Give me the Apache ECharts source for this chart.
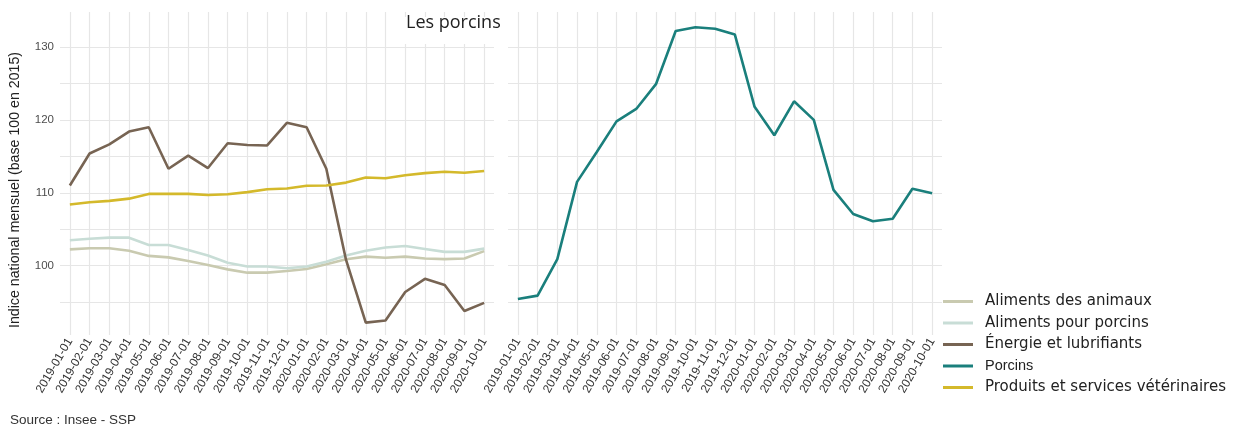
<!DOCTYPE html>
<html>
<head>
<meta charset="utf-8">
<script src="https://cdn.jsdelivr.net/npm/echarts@6/dist/echarts.min.js"></script>
<style>
  html, body { margin: 0; padding: 0; background: #fff; }
  #chart { width: 1238px; height: 428px; }
</style>
</head>
<body>
<div id="chart"></div>
<script>
// mois (axe x commun aux deux panneaux)
const mois = ['2019-01-01', '2019-02-01', '2019-03-01', '2019-04-01', '2019-05-01', '2019-06-01',
  '2019-07-01', '2019-08-01', '2019-09-01', '2019-10-01', '2019-11-01', '2019-12-01',
  '2020-01-01', '2020-02-01', '2020-03-01', '2020-04-01', '2020-05-01', '2020-06-01',
  '2020-07-01', '2020-08-01', '2020-09-01', '2020-10-01']

// indices
const alimentsAnimaux = [102.25, 102.4, 102.4, 102.05, 101.35, 101.15, 100.65, 100.1, 99.5, 99.05, 99.05,
  99.27, 99.55, 100.2, 100.9, 101.25, 101.1, 101.25, 101.0, 100.9, 101.0, 102.0]
const alimentsPorcins = [103.5, 103.7, 103.85, 103.85, 102.85, 102.85, 102.15, 101.4, 100.4, 99.9, 99.9,
  99.65, 99.9, 100.55, 101.4, 102.05, 102.5, 102.7, 102.3, 101.9, 101.9, 102.35]
const energie = [111.0, 115.4, 116.65, 118.4, 119.0, 113.3, 115.1, 113.4, 116.8, 116.55, 116.5,
  119.6, 119.0, 113.3, 100.8, 92.2, 92.5, 96.4, 98.2, 97.35, 93.8, 94.9]
const produitsVeto = [108.4, 108.7, 108.9, 109.2, 109.85, 109.85, 109.85, 109.7, 109.8, 110.1, 110.5,
  110.6, 110.97, 111.0, 111.4, 112.1, 112.0, 112.4, 112.7, 112.9, 112.75, 113.0]
const porcins = [95.43, 95.9, 100.9, 111.5, 115.6, 119.8, 121.5, 124.9, 132.2, 132.7, 132.5,
  131.7, 121.8, 117.9, 122.55, 120.0, 110.4, 107.1, 106.1, 106.45, 110.55, 109.95]

const yLabels = [100, 110, 120, 130]
const yGrid = [95, 100, 105, 110, 115, 120, 125, 130]

const couleurs = {
  'Aliments des animaux': '#c9cab0',
  'Aliments pour porcins': '#c8ddd6',
  'Énergie et lubrifiants': '#776453',
  'Porcins': '#1a7f7c',
  'Produits et services vétérinaires': '#d4b92b'
}

const chart = echarts.init(document.getElementById('chart'))

function xAxe (gridIndex) {
  return {
    type: 'category',
    gridIndex: gridIndex,
    data: mois,
    boundaryGap: true,
    axisLine: { show: false },
    axisTick: { show: false, alignWithLabel: true },
    splitLine: { show: true, alignWithLabel: true, lineStyle: { color: '#e6e6e6', width: 1.2 } },
    axisLabel: {
      rotate: 60,
      margin: 4,
      interval: 0,
      fontFamily: 'Liberation Sans',
      fontSize: 12,
      color: '#333'
    }
  }
}

function yAxe (gridIndex, showLabels) {
  return {
    type: 'value',
    gridIndex: gridIndex,
    min: 90.5,
    max: 134.8,
    axisLine: { show: false },
    axisTick: { show: false, customValues: yGrid },
    splitLine: { show: true, lineStyle: { color: '#e6e6e6', width: 1.2 } },
    axisLabel: {
      show: showLabels,
      customValues: yLabels,
      margin: 6,
      fontFamily: 'Liberation Sans',
      fontSize: 11.5,
      color: '#4d4d4d'
    }
  }
}

function serie (name, data, idx) {
  return {
    name: name,
    type: 'line',
    xAxisIndex: idx,
    yAxisIndex: idx,
    data: data,
    showSymbol: false,
    symbol: 'none',
    color: couleurs[name],
    lineStyle: { width: 2.6, color: couleurs[name] },
    emphasis: { disabled: true }
  }
}

const option = {
  animation: false,
  grid: [
    { left: 60, top: 12, width: 434, height: 323 },
    { left: 508, top: 12, width: 434, height: 323 }
  ],
  xAxis: [xAxe(0), xAxe(1)],
  yAxis: [yAxe(0, true), yAxe(1, false)],
  legend: {
    left: 938,
    top: 288,
    orient: 'vertical',
    icon: 'rect',
    itemWidth: 30,
    itemHeight: 3,
    itemGap: 4.5,
    selectedMode: false,
    data: ['Aliments des animaux', 'Aliments pour porcins', 'Énergie et lubrifiants', 'Porcins', 'Produits et services vétérinaires'],
    formatter: function (name) {
      return name === 'Porcins' ? '{p|' + name + '}' : name
    },
    textStyle: {
      fontFamily: 'DejaVu Sans',
      fontSize: 15,
      lineHeight: 17,
      color: '#222',
      padding: [0, 0, 0, 7],
      rich: {
        p: { fontFamily: 'Liberation Sans', fontSize: 14.5, color: '#222' }
      }
    }
  },
  graphic: [
    {
      type: 'rect',
      z: 10,
      shape: { x: 400, y: 17, width: 100, height: 27 },
      style: { fill: '#fff' }
    },
    {
      type: 'text',
      z: 11,
      style: {
        text: 'Les porcins',
        x: 406,
        y: 23,
        fontFamily: 'Open Sans',
        fontSize: 18,
        fill: '#222',
        textVerticalAlign: 'middle'
      }
    },
    {
      type: 'text',
      z: 11,
      x: 15,
      y: 190,
      rotation: Math.PI / 2,
      style: {
        text: 'Indice national mensuel (base 100 en 2015)',
        fontFamily: 'Liberation Sans',
        fontSize: 14.2,
        fill: '#222',
        textAlign: 'center',
        textVerticalAlign: 'middle'
      }
    },
    {
      type: 'text',
      z: 11,
      style: {
        text: 'Source : Insee - SSP',
        x: 10,
        y: 420,
        fontFamily: 'Liberation Sans',
        fontSize: 13.5,
        fill: '#333',
        textVerticalAlign: 'middle'
      }
    }
  ],
  series: [
    serie('Aliments des animaux', alimentsAnimaux, 0),
    serie('Aliments pour porcins', alimentsPorcins, 0),
    serie('Énergie et lubrifiants', energie, 0),
    serie('Produits et services vétérinaires', produitsVeto, 0),
    serie('Porcins', porcins, 1)
  ]
}

chart.setOption(option)
</script>
</body>
</html>
